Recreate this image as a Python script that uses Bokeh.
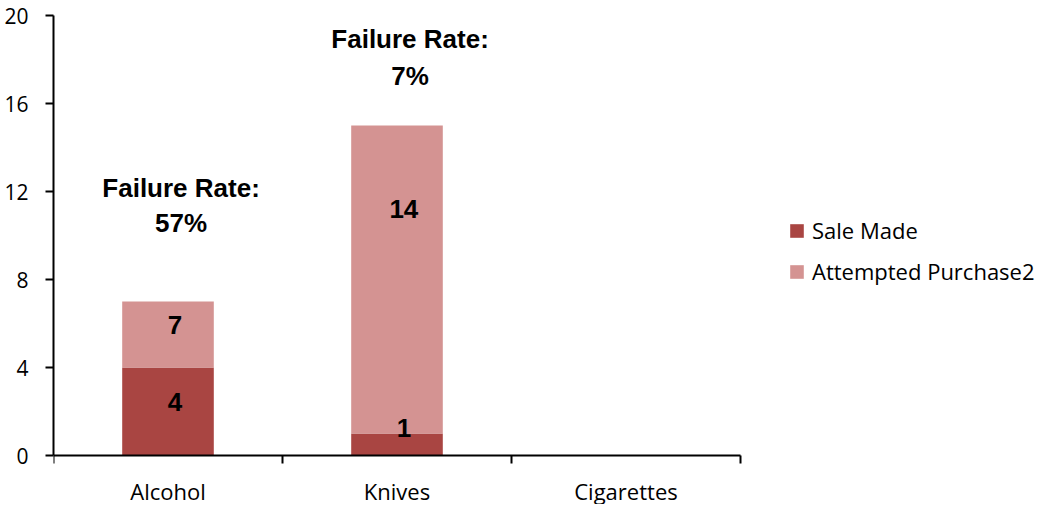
from bokeh.plotting import figure
from bokeh.models import ColumnDataSource, Range1d, LinearAxis, FixedTicker
from bokeh.core.properties import value
from bokeh.embed import file_html
from bokeh.resources import INLINE

# ---- data ----
categories = ["Alcohol", "Knives", "Cigarettes"]
sale_made = [4, 1, 0]
attempted_purchase2 = [3, 14, 0]
sale_labels = ["4", "1"]
attempted_labels = ["7", "14"]
failure_rates = ["57%", "7%"]
y_ticks = [0, 4, 8, 12, 16, 20]
series_names = ["Sale Made", "Attempted Purchase2"]

# ---- layout / style constants ----
DARK = "#A94542"
LIGHT = "#D49392"
W, H = 1044, 504
LEFT, TOP = 53, 15
CAT_PX = 229                  # pixel width of one category slot
AXIS_Y_PX = 455               # canvas y of the value 0
Y_MAX = 20
ppu = (AXIS_Y_PX - TOP) / Y_MAX
y_start = -(H - AXIS_Y_PX) / ppu
x_end = (W - LEFT) / CAT_PX   # frame extends under the legend area

# label positions (data units)
sale_label_y = [2.41, 1.23]
attempt_label_y = [5.91, 11.2]
failure_title_y = [12.18, 18.91]
failure_value_y = [10.55, 17.27]
label_dx = 0.03
failure_dx = 0.057

xs = [i + 0.5 for i in range(len(categories))]
n_cat = len(categories)

p = figure(width=W, height=H, output_backend="svg", toolbar_location=None,
           x_range=Range1d(0, x_end), y_range=Range1d(y_start, Y_MAX),
           x_axis_type=None, min_border_left=LEFT, min_border_right=0,
           min_border_top=TOP, min_border_bottom=0)
p.outline_line_color = None
p.grid.visible = False
p.background_fill_color = "white"
p.border_fill_color = "white"

src = ColumnDataSource(dict(x=xs, sale=sale_made, attempt=attempted_purchase2))
p.vbar_stack(["sale", "attempt"], x="x", width=0.4, source=src,
             fill_color=[DARK, LIGHT], line_color=None,
             legend_label=series_names)

# y axis
ya = p.yaxis[0]
ya.ticker = FixedTicker(ticks=y_ticks)
ya.bounds = (0, Y_MAX)
ya.axis_line_color = "black"
ya.axis_line_width = 2
ya.major_tick_line_color = "black"
ya.major_tick_line_width = 2
ya.major_tick_in = 0
ya.major_tick_out = 8
ya.minor_tick_line_color = None
ya.major_label_standoff = 17
ya.major_label_text_font = "Open Sans"
ya.major_label_text_font_size = "21px"
ya.major_label_text_color = "black"

# x axis at value 0
xa = LinearAxis(ticker=FixedTicker(ticks=xs, minor_ticks=list(range(n_cat + 1))),
                fixed_location=0, bounds=(0, n_cat),
                major_label_overrides={x: c for x, c in zip(xs, categories)})
xa.axis_line_color = "black"
xa.axis_line_width = 2
xa.major_tick_line_color = None
xa.major_tick_in = 0
xa.major_tick_out = 0
xa.minor_tick_line_color = "black"
xa.minor_tick_line_width = 2
xa.minor_tick_in = 0
xa.minor_tick_out = 8
xa.major_label_standoff = 12
xa.major_label_text_font = "Open Sans"
xa.major_label_text_font_size = "22px"
xa.major_label_text_color = "black"
p.add_layout(xa, "below")

bold = dict(text_font=value("Liberation Sans"), text_font_style="bold",
            text_font_size="26px", text_align="center", text_baseline="middle",
            text_color="black")
n = len(sale_labels)
p.text(x=[x + label_dx for x in xs[:n]], y=sale_label_y, text=sale_labels, **bold)
p.text(x=[x + label_dx for x in xs[:n]], y=attempt_label_y, text=attempted_labels, **bold)
p.text(x=[x + failure_dx for x in xs[:n]], y=failure_title_y,
       text=["Failure Rate:"] * n, **bold)
p.text(x=[x + failure_dx for x in xs[:n]], y=failure_value_y, text=failure_rates, **bold)

leg = p.legend[0]
leg.location = (735, 218)
leg.padding = 0
leg.margin = 0
leg.border_line_color = None
leg.background_fill_alpha = 0
leg.glyph_width = 17
leg.glyph_height = 17
leg.label_standoff = 7
leg.spacing = 11
leg.label_text_font = "Open Sans"
leg.label_text_font_size = "22px"
leg.label_text_color = "black"

open("out.html", "w").write(file_html(p, INLINE))
